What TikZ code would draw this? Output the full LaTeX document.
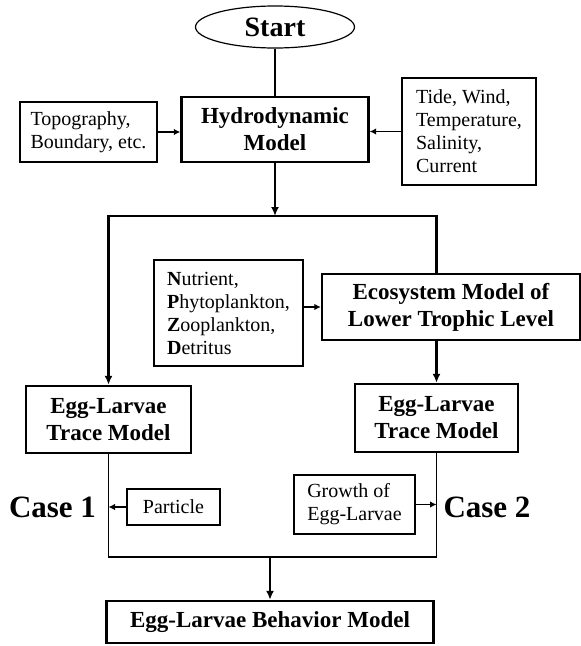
\documentclass[tikz,border=0pt]{standalone}
\usepackage{fontspec}
\setmainfont{Liberation Serif}
\usetikzlibrary{arrows.meta,shapes.geometric}

\begin{document}
\begin{tikzpicture}[x=1pt,y=-1pt,
		mainbox/.style={draw,line width=2.4pt,inner sep=0pt,align=center,font=\fontsize{23}{27}\selectfont\bfseries},
		inbox/.style={draw,line width=1.2pt,inner sep=0pt,align=left,font=\fontsize{20}{23}\selectfont},
		casetxt/.style={font=\fontsize{31}{34}\selectfont\bfseries},
		flow/.style={line width=2.2pt,-{Latex[length=9pt,width=8pt]}},
		feed/.style={line width=1.2pt,-{Latex[length=6.5pt,width=6.5pt]}}]
			\useasboundingbox(0,0)rectangle(581,646);
			% top: start and hydrodynamic model with its inputs
			\node[ellipse,draw,line width=1.2pt,inner sep=0pt,minimum width=159pt,minimum height=42pt,
				font=\fontsize{28}{32}\selectfont\bfseries](start)at(275,27){Start};
			\node[mainbox,minimum width=187pt,minimum height=65pt](hydro)at(275,129.5){Hydrodynamic\\Model};
			\node[inbox,minimum width=137pt,minimum height=60pt](topo)at(88.5,132){Topography,\\Boundary, etc.};
			\node[inbox,minimum width=134pt,minimum height=107pt](tide)at(469,131.5)
			{Tide, Wind,\\Temperature,\\Salinity,\\Current};
			% middle: ecosystem model and trace models
			\node[inbox,minimum width=149pt,minimum height=106pt](nutr)at(228.5,313)
			{\textbf{N}utrient,\\\textbf{P}hytoplankton,\\\textbf{Z}ooplankton,\\\textbf{D}etritus};
			\node[mainbox,minimum width=258pt,minimum height=66pt](eco)at(451,307){Ecosystem Model of\\Lower Trophic Level};
			\node[mainbox,minimum width=165pt,minimum height=67pt](eggL)at(108.5,419.5){Egg-Larvae\\Trace Model};
			\node[mainbox,minimum width=163pt,minimum height=68pt](eggR)at(436.5,418){Egg-Larvae\\Trace Model};
			% bottom: the two cases and the behavior model
			\node[inbox,minimum width=93pt,minimum height=36pt,align=center](part)at(173.5,507){Particle};
			\node[inbox,minimum width=121pt,minimum height=59pt](grow)at(354.5,504.5){Growth of\\Egg-Larvae};
			\node[casetxt](case1)at(52.5,507){Case 1};
			\node[casetxt](case2)at(487,507){Case 2};
			\node[mainbox,minimum width=327pt,minimum height=42pt](behav)at(270,622){Egg-Larvae Behavior Model};
			\coordinate(split)at(275,216);
			\coordinate(join)at(270,557);
			% connectors
			\draw[line width=2.2pt](start)--(hydro);
			\draw[feed](topo.east)--(topo.east-|hydro.west);
			\draw[feed](tide.west)--(tide.west-|hydro.east);
			\draw[flow](hydro)--(split);
			\draw[flow](split)-|(eggL);
			\draw[line width=2.2pt](split)-|(eco.north-|eggR.north);
			\draw[feed](nutr.east|-eco.west)--(eco.west);
			\draw[flow](eco.south-|eggR.north)--(eggR);
			\draw[line width=1.2pt](eggL)|-(join)-|(eggR);
			\draw[feed](part.west)--(part.west-|eggL.south);
			\draw[feed](grow.east)--(grow.east-|eggR.south);
			\draw[flow](join)--(behav);
		\end{tikzpicture}
\end{document}
